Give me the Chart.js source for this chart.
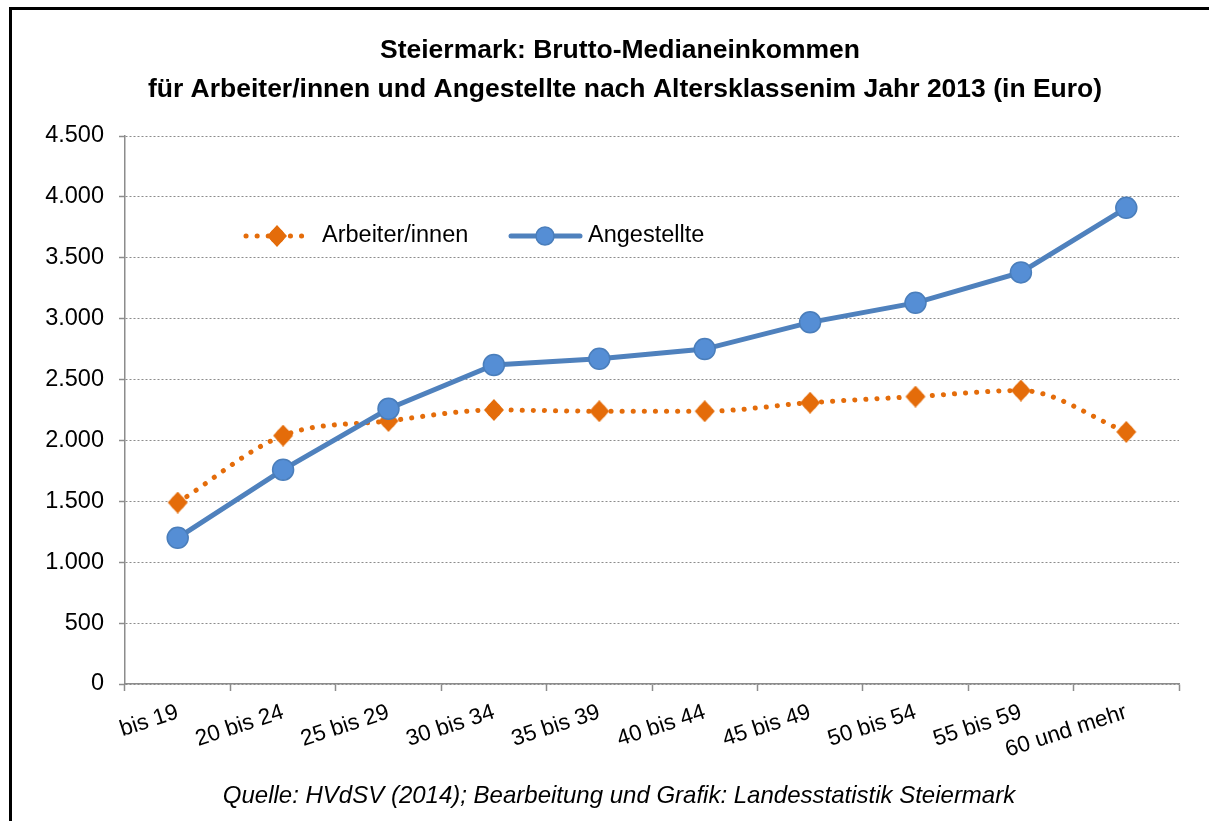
<!DOCTYPE html>
<html>
<head>
<meta charset="utf-8">
<script src="https://cdn.jsdelivr.net/npm/chart.js@4/dist/chart.umd.min.js"></script>
<style>
  html, body { margin: 0; padding: 0; background: #fff; overflow: hidden; }
  #wrap { position: relative; width: 1209px; height: 821px; }
  #frame { position: absolute; left: 9px; top: 7px; width: 1300px; height: 900px;
           border-left: 3px solid #000; border-top: 3px solid #000; pointer-events: none; }
</style>
</head>
<body>
<div id="wrap">
  <canvas id="c" width="1209" height="821"></canvas>
  <div id="frame"></div>
</div>
<script>
// data
const ageGroups = ['bis 19', '20 bis 24', '25 bis 29', '30 bis 34', '35 bis 39', '40 bis 44', '45 bis 49', '50 bis 54', '55 bis 59', '60 und mehr'];
const arbeiter = [1490, 2040, 2160, 2250, 2240, 2240, 2310, 2360, 2410, 2070];
const angestellte = [1200, 1760, 2260, 2620, 2670, 2750, 2970, 3130, 3380, 3910];
const titleLines = ['Steiermark: Brutto-Medianeinkommen', 'für Arbeiter/innen und Angestellte nach Altersklassenim Jahr 2013 (in Euro)'];
const sourceText = 'Quelle: HVdSV (2014); Bearbeitung und Grafik: Landesstatistik Steiermark';
const seriesNames = ['Arbeiter/innen', 'Angestellte'];

const ORANGE = '#E46C0A';
const BLUE = '#4F81BD';
const GRID = '#8c8c8c';
const FONT = '"Liberation Sans", Arial, sans-serif';

// fat jagged diamond marker like the excel one
function starMarker(color) {
    const c = document.createElement('canvas');
    c.width = 22; c.height = 22;
    const g = c.getContext('2d');
    g.fillStyle = color;
    g.beginPath();
    g.moveTo(11, 0); g.lineTo(21, 11); g.lineTo(11, 22); g.lineTo(1, 11);
    g.closePath();
    g.fill();
    g.beginPath();
    g.arc(11, 11, 7.5, 0, Math.PI * 2);
    g.fill();
    return c;
}
const marker = starMarker(ORANGE);

const fmt = v => v.toLocaleString('de-DE');

const decor = {
    id: 'decor',
    afterDraw(chart) {
        const ctx = chart.ctx;
        ctx.save();
        ctx.fillStyle = '#000';
        ctx.textAlign = 'center';
        ctx.textBaseline = 'middle';
        ctx.font = 'bold 26.5px ' + FONT;
        ctx.fillText(titleLines[0], 620, 51);
        ctx.fillText(titleLines[1], 625, 90);

        ctx.font = 'italic 24px ' + FONT;
        ctx.fillText(sourceText, 619, 796);

        // legend
        const ly = 236;
        ctx.strokeStyle = ORANGE;
        ctx.lineWidth = 5;
        ctx.lineCap = 'round';
        ctx.setLineDash([0.1, 11]);
        ctx.beginPath(); ctx.moveTo(246, ly); ctx.lineTo(308, ly); ctx.stroke();
        ctx.setLineDash([]);
        ctx.drawImage(marker, 277 - 11, ly - 11);

        ctx.strokeStyle = BLUE;
        ctx.lineWidth = 5;
        ctx.beginPath(); ctx.moveTo(511, ly); ctx.lineTo(580, ly); ctx.stroke();
        ctx.fillStyle = '#558ED5';
        ctx.strokeStyle = '#4A7EBB';
        ctx.lineWidth = 1.5;
        ctx.beginPath(); ctx.arc(545, ly, 9, 0, Math.PI * 2); ctx.fill(); ctx.stroke();

        ctx.fillStyle = '#000';
        ctx.textAlign = 'left';
        ctx.font = '23.5px ' + FONT;
        ctx.fillText(seriesNames[0], 322, ly);
        ctx.fillText(seriesNames[1], 588, ly);
        ctx.restore();
    }
};

new Chart(document.getElementById('c'), {
    type: 'line',
    data: {
        labels: ageGroups,
        datasets: [{
            label: seriesNames[1],
            data: angestellte,
            borderColor: BLUE,
            borderWidth: 5,
            tension: 0,
            pointRadius: 10.5,
            pointHoverRadius: 10.5,
            pointBackgroundColor: '#558ED5',
            pointBorderColor: '#4A7EBB',
            pointBorderWidth: 1.5,
        }, {
            label: seriesNames[0],
            data: arbeiter,
            borderColor: ORANGE,
            borderWidth: 5,
            borderDash: [0.1, 11],
            borderCapStyle: 'round',
            cubicInterpolationMode: 'monotone',
            pointStyle: marker,
            pointRadius: 11,
        }]
    },
    options: {
        responsive: false,
        animation: false,
        layout: { padding: { left: 10, right: 30, top: 136, bottom: 0 } },
        plugins: {
            legend: { display: false },
            tooltip: { enabled: false },
        },
        scales: {
            x: {
                offset: true,
                afterFit: s => { s.height = 137; },
                border: { color: GRID, width: 1.5 },
                grid: {
                    display: true,
                    drawOnChartArea: false,
                    drawTicks: true,
                    offset: true,
                    tickLength: 7,
                    tickColor: GRID,
                    tickWidth: 1.5,
                },
                ticks: {
                    minRotation: 18,
                    maxRotation: 18,
                    color: '#000',
                    padding: 8,
                    font: { family: FONT, size: 22.5 },
                },
            },
            y: {
                min: 0,
                max: 4500,
                afterFit: s => { s.width = 115; },
                border: { color: GRID, width: 1.5, dash: [2, 2] },
                grid: {
                    color: GRID,
                    lineWidth: 1,
                    tickLength: 6,
                    tickColor: GRID,
                    tickWidth: 1.5,
                },
                ticks: {
                    stepSize: 500,
                    color: '#000',
                    padding: 15,
                    font: { family: FONT, size: 23.5 },
                    callback: v => fmt(v),
                },
            },
        },
    },
    plugins: [decor],
});
</script>
</body>
</html>
